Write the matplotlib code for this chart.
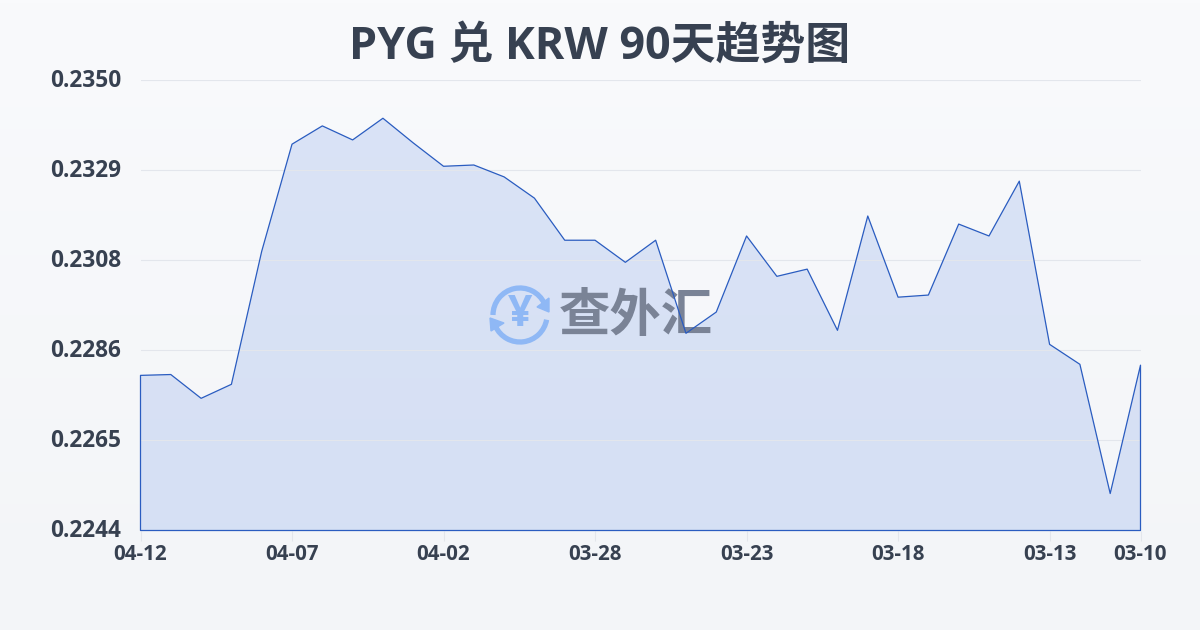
import numpy as np
import matplotlib
matplotlib.use('Agg')
import matplotlib.pyplot as plt
from matplotlib.patches import Arc, Polygon
from matplotlib.transforms import Affine2D

plt.rcParams['font.family'] = ['Open Sans', 'Noto Sans CJK SC', 'DejaVu Sans']

title = 'PYG 兑 KRW 90天趋势图'
rates = [0.22805, 0.22807, 0.22751, 0.22784, 0.23097, 0.23349, 0.23392, 0.23359,
         0.23410, 0.23352, 0.23297, 0.23300, 0.23272, 0.23222, 0.23123, 0.23123,
         0.23071, 0.23123, 0.22904, 0.22954, 0.23133, 0.23038, 0.23055, 0.22911,
         0.23180, 0.22989, 0.22994, 0.23161, 0.23133, 0.23262, 0.22878, 0.22831,
         0.22527, 0.22829]
date_ticks = [0, 5, 10, 15, 20, 25, 30, 33]
date_labels = ['04-12', '04-07', '04-02', '03-28', '03-23', '03-18', '03-13', '03-10']
rate_ticks = [0.2244, 0.22652, 0.22864, 0.23076, 0.23288, 0.2350]

TEXT = '#374151'
LINE = '#2a5cc0'
GRID = '#e3e6ec'
ICON = '#8fb8f5'
MARK = '#7a8396'

fig = plt.figure(figsize=(12, 6.3), dpi=100)

# page background
bg = fig.add_axes([0, 0, 1, 1], zorder=0)
bg.imshow(np.linspace(0, 1, 200).reshape(-1, 1),
          cmap=matplotlib.colors.LinearSegmentedColormap.from_list('bg', ['#f9fafc', '#f3f5f8']),
          aspect='auto', extent=[0, 1, 0, 1])
bg.axis('off')

ax = fig.add_axes([140.5 / 1200, 99.5 / 630, 1000 / 1200, 450.5 / 630], zorder=1)
ax.patch.set_alpha(0)
days = np.arange(len(rates))
ax.fill_between(days, rates, rate_ticks[0], facecolor=(0.24, 0.45, 0.88, 0.16),
                edgecolor='none', zorder=1)

# watermark, placed in figure pixels with y going down
px = Affine2D().scale(1, -1).translate(0, 630)
for t1, t2 in [(180, 335), (10, 155)]:
    # y is flipped by px, so angles run the other way round
    ax.add_patch(Arc((520, 315), 54, 54, theta1=t1, theta2=t2, color=ICON, lw=3.8,
                     transform=px, clip_on=False, zorder=2))
ax.add_patch(Polygon([(537, 307), (549, 298), (549, 312)], color=ICON, transform=px, zorder=2))
ax.add_patch(Polygon([(490, 318), (504, 323), (491, 331)], color=ICON, transform=px, zorder=2))
ax.text(520, 315, '¥', color=ICON, fontsize=31, fontweight='bold', ha='center',
        va='center', transform=px, zorder=2)
ax.text(636, 318.5, '查外汇', color=MARK, fontsize=37, fontweight='bold', ha='center',
        va='center', transform=px, zorder=2)

poly = ax.fill_between(days, rates, rate_ticks[0], facecolor='none', edgecolor=LINE,
                       linewidth=0.9, zorder=3)
poly.set_clip_on(False)

ax.set_xlim(days[0], days[-1])
ax.set_ylim(rate_ticks[0], rate_ticks[-1])
ax.set_xticks(date_ticks)
ax.set_xticklabels(date_labels, fontsize=14.8, fontweight='bold', color=TEXT)
ax.set_yticks(rate_ticks)
ax.set_yticklabels(['%.4f' % v for v in rate_ticks], fontsize=16.3, fontweight='bold', color=TEXT)
ax.tick_params(axis='x', length=7, width=0.8, color=GRID, pad=2.6)
ax.tick_params(axis='y', length=0, pad=14)
for lab in ax.get_yticklabels():
    lab.set_transform(lab.get_transform() + Affine2D().translate(0, 2))
ax.grid(axis='y', color=GRID, linewidth=0.8, zorder=1.5)
ax.set_axisbelow(False)
for s in ax.spines.values():
    s.set_visible(False)

fig.text(0.5, 1 - 47 / 630, title, ha='center', va='center', fontsize=32.3,
         fontweight='bold', color=TEXT)

fig.savefig('out.png', dpi=100)
